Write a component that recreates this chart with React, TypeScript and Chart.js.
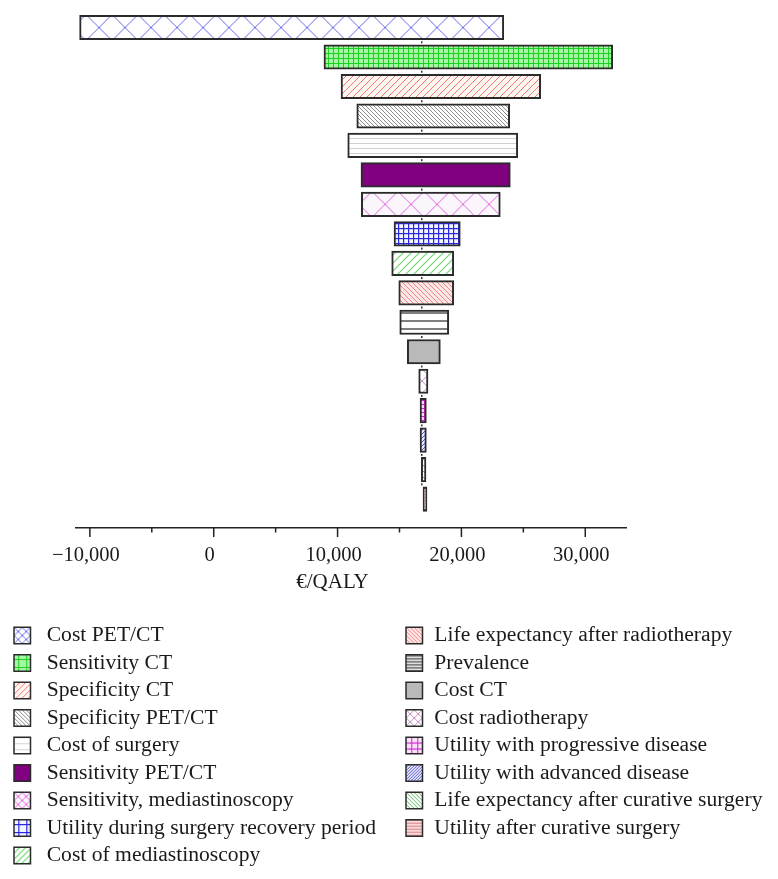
import React, { useEffect, useRef } from "react";
import { Chart, registerables } from "chart.js";

Chart.register(...registerables);

// ---------- data ----------
const CATEGORIES = [
  "Cost PET/CT",
  "Sensitivity CT",
  "Specificity CT",
  "Specificity PET/CT",
  "Cost of surgery",
  "Sensitivity PET/CT",
  "Sensitivity, mediastinoscopy",
  "Utility during surgery recovery period",
  "Cost of mediastinoscopy",
  "Life expectancy after radiotherapy",
  "Prevalence",
  "Cost CT",
  "Cost radiotherapy",
  "Utility with progressive disease",
  "Utility with advanced disease",
  "Life expectancy after curative surgery",
  "Utility after curative surgery",
];

const LOW_VALUES = [
  -10830, 8900, 10280, 11550, 10820, 11890, 11920, 14560, 14370, 14940, 15020,
  15630, 16550, 16660, 16660, 16760, 16900,
];

const HIGH_VALUES = [
  23420, 32220, 26400, 23900, 24550, 23950, 23140, 19910, 19380, 19380, 18980,
  18300, 17300, 17170, 17170, 17140, 17220,
];

const BASE_VALUE = 16800;
const AXIS_MIN = -11120;
const AXIS_MAX = 33290;
const TICK_VALUES = [-10000, -5000, 0, 5000, 10000, 15000, 20000, 25000, 30000];
const LABELED_TICKS = [-10000, 0, 10000, 20000, 30000];
const AXIS_TITLE = "€/QALY";

// ---------- styles ----------
type PatternSpec = { kind: string; fg: string; bg: string; size: number; lw: number; legend: number };

const PATTERNS: PatternSpec[] = [
  { kind: "cross", fg: "#6a6ae8", bg: "#ffffff", size: 26, lw: 1, legend: 8.25 },
  { kind: "grid", fg: "#1fcf1f", bg: "#a4f5a4", size: 5, lw: 1, legend: 8.25 },
  { kind: "up", fg: "#ef7b6c", bg: "#fff6f4", size: 7, lw: 1, legend: 5.5 },
  { kind: "down", fg: "#8a8a8a", bg: "#ffffff", size: 4, lw: 1, legend: 3.5 },
  { kind: "horiz", fg: "#d0d0d0", bg: "#ffffff", size: 5, lw: 1, legend: 5.5 },
  { kind: "solid", fg: "#800080", bg: "#800080", size: 1, lw: 1, legend: 1 },
  { kind: "cross", fg: "#e268e2", bg: "#fbf6fb", size: 26, lw: 1, legend: 8.25 },
  { kind: "grid", fg: "#2828e0", bg: "#f4f4ff", size: 5, lw: 1.2, legend: 8.25 },
  { kind: "up", fg: "#72d872", bg: "#ffffff", size: 8, lw: 1.2, legend: 5.5 },
  { kind: "down", fg: "#ee8888", bg: "#fde6e6", size: 4.5, lw: 1, legend: 3.5 },
  { kind: "horiz", fg: "#808080", bg: "#ffffff", size: 8, lw: 2, legend: 3.3 },
  { kind: "solid", fg: "#b9b9b9", bg: "#b9b9b9", size: 1, lw: 1, legend: 1 },
  { kind: "cross", fg: "#c38ec3", bg: "#ffffff", size: 12, lw: 1, legend: 8.25 },
  { kind: "grid", fg: "#cc22cc", bg: "#f8e0f8", size: 4, lw: 1, legend: 5.5 },
  { kind: "up", fg: "#5a5ad0", bg: "#e8e8ff", size: 4, lw: 1, legend: 3.3 },
  { kind: "down", fg: "#60bb60", bg: "#ffffff", size: 6, lw: 1, legend: 4 },
  { kind: "horiz", fg: "#dd8888", bg: "#f7d8d8", size: 3, lw: 1, legend: 3 },
];

const FONT_FAMILY = '"Liberation Serif", "DejaVu Serif", serif';
const BORDER_COLOR = "#2b2b2b";

function makePattern(spec: PatternSpec, ox = 0, oy = 0, sizeOverride?: number): CanvasPattern | string {
  if (spec.kind === "solid") return spec.bg;
  const t = Math.round(sizeOverride ?? spec.size);
  const c = document.createElement("canvas");
  c.width = t;
  c.height = t;
  const g = c.getContext("2d")!;
  g.fillStyle = spec.bg;
  g.fillRect(0, 0, t, t);
  g.strokeStyle = spec.fg;
  g.fillStyle = spec.fg;
  g.lineWidth = spec.lw;
  const drawUp = () => {
    g.beginPath();
    for (const k of [0, t, 2 * t]) {
      g.moveTo(k + t, -t);
      g.lineTo(k - 2 * t, 2 * t);
    }
    g.stroke();
  };
  const drawDown = () => {
    g.beginPath();
    for (const k of [-t, 0, t]) {
      g.moveTo(k - t, -t);
      g.lineTo(k + 2 * t, 2 * t);
    }
    g.stroke();
  };
  if (spec.kind === "up") drawUp();
  else if (spec.kind === "down") drawDown();
  else if (spec.kind === "cross") {
    drawUp();
    drawDown();
  } else if (spec.kind === "grid") {
    g.fillRect(0, 0, spec.lw, t);
    g.fillRect(0, 0, t, spec.lw);
  } else if (spec.kind === "horiz") {
    g.fillRect(0, 0, t, spec.lw);
  }
  const p = g.createPattern(c, "repeat");
  if (!p) return spec.bg;
  if (ox || oy) {
    try {
      p.setTransform(new DOMMatrix().translate(ox, oy));
    } catch (e) {
      /* ignore */
    }
  }
  return p;
}

function formatTick(v: number): string {
  const abs = Math.abs(v).toLocaleString("en-US");
  return v < 0 ? "\u2212" + abs : abs;
}

export default function App() {
  const canvasRef = useRef<HTMLCanvasElement | null>(null);

  useEffect(() => {
    const canvas = canvasRef.current;
    if (!canvas) return;

    // bar fills: cross-hatch patterns aligned so the crossings sit on each bar's middle
    const rowPitch = 29.47;
    const firstCenter = 19.5;
    const fills = PATTERNS.map((spec, i) => {
      if (spec.kind === "cross") {
        const cy = firstCenter + rowPitch * i;
        return makePattern(spec, 0, cy - spec.size / 2);
      }
      return makePattern(spec);
    });

    const perCol = 9;
    const rowH = 27.5;
    const legendTop = 627.5;
    const box = 16.5;
    const legendPos = CATEGORIES.map((_, i) => {
      const col = i < perCol ? 0 : 1;
      const row = col === 0 ? i : i - perCol;
      return {
        swX: col === 0 ? 6 : 398,
        txX: col === 0 ? 38.7 : 426.3,
        cy: legendTop + row * rowH,
      };
    });
    const legendFills = PATTERNS.map((spec, i) => {
      const p = legendPos[i];
      const t = Math.round(spec.legend);
      if (spec.kind === "cross" || spec.kind === "grid") {
        return makePattern(spec, p.swX + box / 2 - t / 2, p.cy - t / 2, spec.legend);
      }
      return makePattern(spec, p.swX, p.cy - box / 2, spec.legend);
    });

    const extras = {
      id: "extras",
      beforeDatasetsDraw(chart: any) {
        const ctx = chart.ctx;
        const xs = chart.scales.x;
        const ys = chart.scales.y;
        const x = xs.getPixelForValue(BASE_VALUE);
        ctx.save();
        ctx.fillStyle = "#333";
        for (let i = 0; i < CATEGORIES.length - 1; i++) {
          const y = ys.getPixelForValue(i + 0.5);
          ctx.fillRect(x - 0.75, y - 1, 1.5, 2);
        }
        ctx.restore();
      },
      afterDraw(chart: any) {
        const ctx = chart.ctx;
        const xs = chart.scales.x;
        const area = chart.chartArea;
        ctx.save();
        // tick marks (long at labelled values, short between)
        ctx.strokeStyle = "#222";
        ctx.lineWidth = 1.5;
        for (const v of TICK_VALUES) {
          const px = xs.getPixelForValue(v);
          const len = LABELED_TICKS.includes(v) ? 9 : 4.5;
          ctx.beginPath();
          ctx.moveTo(px, area.bottom);
          ctx.lineTo(px, area.bottom + len);
          ctx.stroke();
        }
        // axis title
        ctx.fillStyle = "#1a1a1a";
        ctx.font = `21px ${FONT_FAMILY}`;
        ctx.textAlign = "center";
        ctx.textBaseline = "middle";
        ctx.fillText(AXIS_TITLE, area.left + 256.5, area.bottom + 54.5);
        // legend
        ctx.font = `21.6px ${FONT_FAMILY}`;
        ctx.textAlign = "left";
        CATEGORIES.forEach((label, i) => {
          const p = legendPos[i];
          ctx.fillStyle = legendFills[i] as any;
          ctx.fillRect(p.swX, p.cy - box / 2, box, box);
          ctx.strokeStyle = BORDER_COLOR;
          ctx.lineWidth = 1.5;
          ctx.strokeRect(p.swX, p.cy - box / 2, box, box);
          ctx.fillStyle = "#1a1a1a";
          ctx.fillText(label, p.txX, p.cy);
        });
        ctx.restore();
      },
    };

    const chart = new Chart(canvas, {
      type: "bar",
      data: {
        datasets: [
          {
            data: CATEGORIES.map((_, i) => ({ y: i, x: [LOW_VALUES[i], HIGH_VALUES[i]] })) as any,
            backgroundColor: fills as any,
            borderColor: BORDER_COLOR,
            borderWidth: 2,
            borderSkipped: false,
            barThickness: 24.5,
          },
        ],
      },
      options: {
        indexAxis: "y",
        responsive: false,
        animation: false,
        layout: { padding: { left: 68, right: 144, top: 4.8, bottom: 303 } },
        plugins: {
          legend: { display: false },
          tooltip: { enabled: false },
        },
        scales: {
          y: {
            type: "linear",
            min: -0.5,
            max: 16.98,
            reverse: true,
            display: false,
            offset: false,
          },
          x: {
            type: "linear",
            min: AXIS_MIN,
            max: AXIS_MAX,
            border: { display: true, color: "#222", width: 1.5 },
            grid: { drawOnChartArea: false, drawTicks: false },
            afterBuildTicks: (s: any) => {
              s.ticks = TICK_VALUES.map((value) => ({ value }));
            },
            ticks: {
              autoSkip: false,
              maxRotation: 0,
              minRotation: 0,
              padding: 15,
              labelOffset: -4,
              color: "#1a1a1a",
              font: { family: FONT_FAMILY, size: 20.5 },
              callback: (v: any) => (LABELED_TICKS.includes(Number(v)) ? formatTick(Number(v)) : ""),
            },
            afterFit: (s: any) => {
              s.height = 40;
            },
          } as any,
        },
      } as any,
      plugins: [extras],
    });

    return () => chart.destroy();
  }, []);

  return (
    <div style={{ width: 762, height: 863 }}>
      <canvas ref={canvasRef} width={762} height={863} style={{ display: "block", width: 762, height: 863 }} />
    </div>
  );
}
